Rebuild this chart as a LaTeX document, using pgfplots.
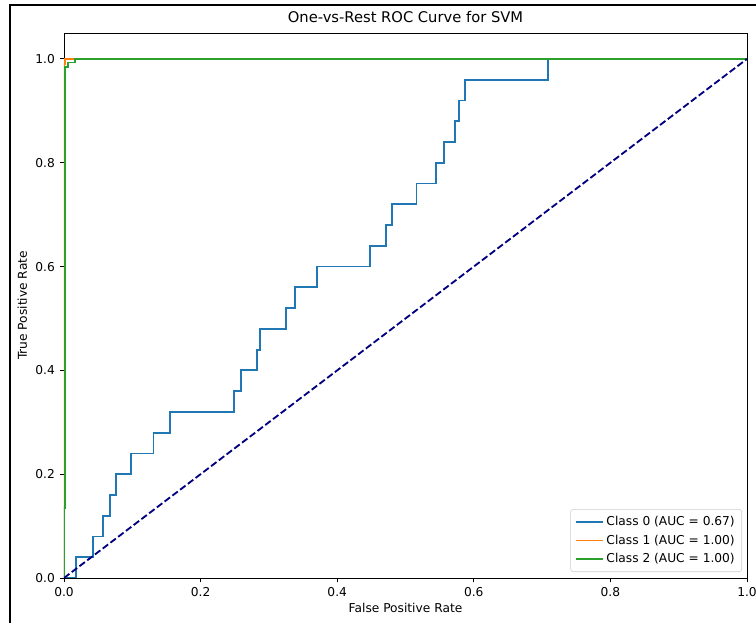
\documentclass[border=0pt]{standalone}
\usepackage{fontspec}
\setmainfont{DejaVu Sans}
\usepackage{pgfplots}
\pgfplotsset{compat=1.18}
\definecolor{tabblue}{HTML}{1F77B4}
\definecolor{taborange}{HTML}{FF7F0E}
\definecolor{tabgreen}{HTML}{2CA02C}
\definecolor{mplnavy}{HTML}{000080}
\begin{document}
\begin{tikzpicture}
\useasboundingbox (-46.08pt,-32.4pt) rectangle (498.24pt,416.16pt);
\draw[line width=0.75pt,black] (-38.88pt,-60pt) rectangle (520pt,412.56pt);
\begin{axis}[
  at={(0pt,0pt)}, anchor=south west,
  scale only axis, width=491.76pt, height=392.4pt,
  xmin=0, xmax=1, ymin=0, ymax=1.05,
  axis line style={line width=0.7pt},
  tick pos=left, tick align=outside,
  major tick length=3.1pt,
  every tick/.style={black, line width=0.7pt},
  xtick={0,0.2,0.4,0.6,0.8,1.0},
  ytick={0,0.2,0.4,0.6,0.8,1.0},
  xticklabels={0.0,0.2,0.4,0.6,0.8,1.0},
  yticklabels={0.0,0.2,0.4,0.6,0.8,1.0},
  ticklabel style={font=\fontsize{8.8}{10.5}\selectfont},
  /pgf/number format/assume math mode=true,
  xlabel={False Positive Rate},
  ylabel={True Positive Rate},
  label style={font=\fontsize{8.8}{10.5}\selectfont},
  xlabel style={at={(axis description cs:0.5,-0.055)}, anchor=center},
  ylabel style={at={(axis description cs:-0.061,0.5)}, anchor=center},
  legend cell align=left,
  legend style={at={(axis description cs:1,0)}, anchor=south east,
    xshift=-3.6pt, yshift=4.3pt, draw=black!20, rounded corners=2pt,
    font=\fontsize{8.8}{10.5}\selectfont, row sep=1.2pt,
    inner xsep=3pt, inner ysep=3pt},
  legend image code/.code={\draw[#1] (0pt,0pt) -- (19.5pt,0pt);},
]
\addplot[tabblue, line width=1.32pt, sharp plot] coordinates {
(0,0) (0.0176,0) (0.0176,0.04) (0.042,0.04) (0.042,0.08) (0.0566,0.08) (0.0566,0.12)
(0.0678,0.12) (0.0678,0.16) (0.076,0.16) (0.076,0.20) (0.0976,0.20) (0.0976,0.24)
(0.131,0.24) (0.131,0.28) (0.1557,0.28) (0.1557,0.32) (0.249,0.32) (0.249,0.36)
(0.2596,0.36) (0.2596,0.40) (0.282,0.40) (0.282,0.44) (0.2865,0.44) (0.2865,0.48)
(0.325,0.48) (0.325,0.52) (0.338,0.52) (0.338,0.56) (0.371,0.56) (0.371,0.60)
(0.448,0.60) (0.448,0.64) (0.472,0.64) (0.472,0.68) (0.48,0.68) (0.48,0.72)
(0.516,0.72) (0.516,0.76) (0.545,0.76) (0.545,0.80) (0.556,0.80) (0.556,0.84)
(0.573,0.84) (0.573,0.88) (0.578,0.88) (0.578,0.92) (0.5866,0.92) (0.5866,0.96)
(0.709,0.96) (0.709,1.0) (1,1)};
\addlegendentry{Class 0 (AUC = 0.67)}
\addplot[taborange, line width=1.32pt, sharp plot] coordinates {
(0,0) (0,0.99) (0.0015,0.99) (0.0015,1.0) (1,1)};
\addlegendentry{Class 1 (AUC = 1.00)}
\addplot[tabgreen, line width=1.32pt, sharp plot] coordinates {
(0,0) (0,0.135) (0.002,0.135) (0.002,0.985) (0.006,0.985) (0.006,0.993) (0.016,0.993) (0.016,1.0) (1,1)};
\addlegendentry{Class 2 (AUC = 1.00)}
\addplot[mplnavy, line width=1.32pt, dash pattern=on 4.9pt off 2.1pt, forget plot] coordinates {(0,0) (1,1)};
\end{axis}
\node[anchor=base, font=\fontsize{10.6}{12.7}\selectfont] at (245.88pt,399.6pt) {One-vs-Rest ROC Curve for SVM};
\end{tikzpicture}
\end{document}
